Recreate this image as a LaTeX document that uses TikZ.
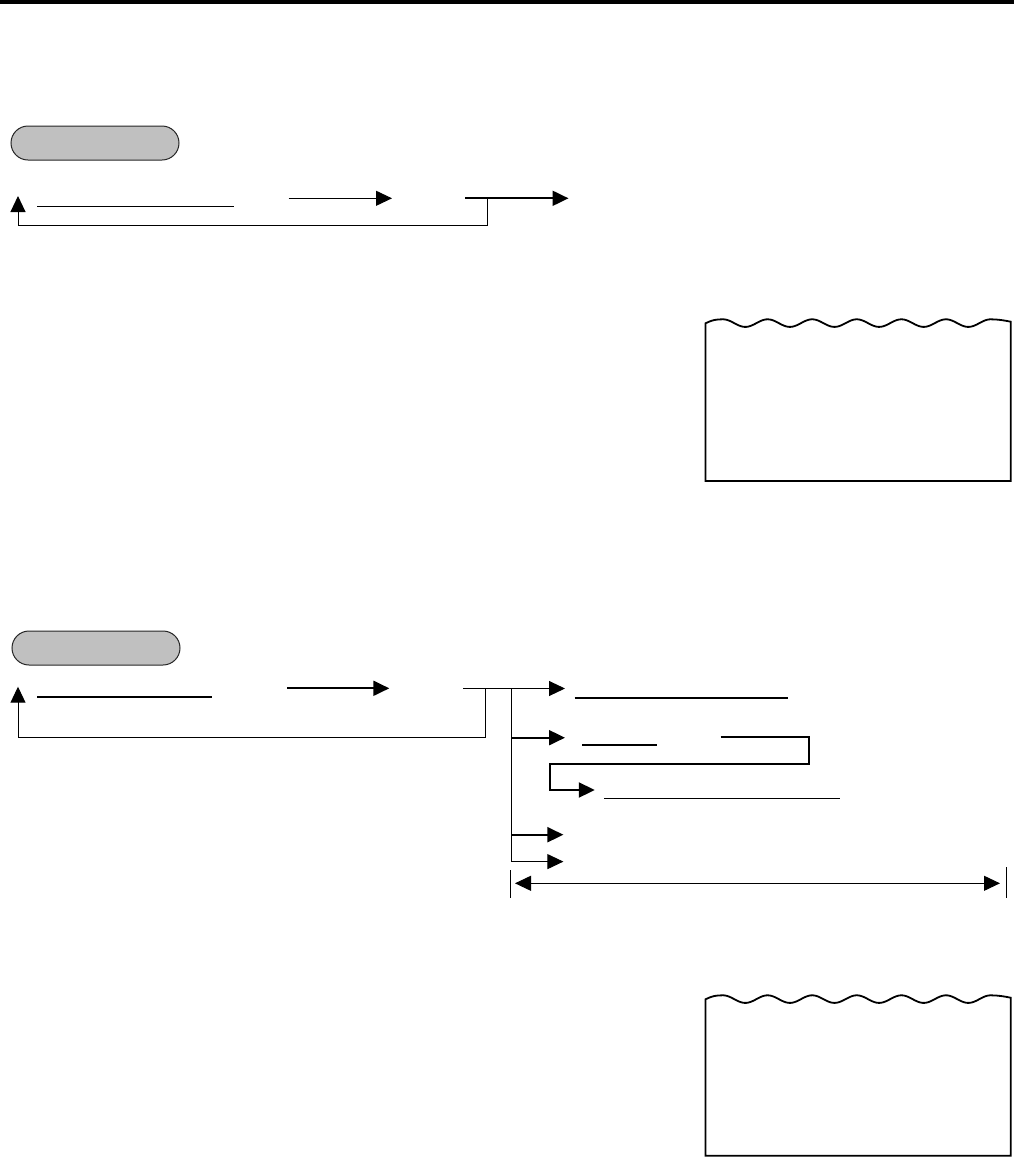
\documentclass[tikz,border=0pt]{standalone}
\usetikzlibrary{arrows.meta}
\definecolor{pillgray}{RGB}{192,192,192}
\begin{document}
\begin{tikzpicture}[x=1pt,y=-1pt,
  thinln/.style={line width=1pt},
  thickln/.style={line width=2pt},
  tipend/.style={-{Triangle[length=16pt,width=15pt]}},
  tipboth/.style={{Triangle[length=16pt,width=15pt]}-{Triangle[length=16pt,width=15pt]}},
  pill/.style={draw=black!85, line width=1pt, fill=pillgray, rounded corners=17pt,
    minimum width=168pt, minimum height=34pt, inner sep=0pt},
  receipt/.style={draw=black, line width=1.8pt, line join=miter}]
\useasboundingbox (0,0) rectangle (1014,1157);
% top rule
\fill[black] (0,0) rectangle (1014,4);

% ---------- section 1 ----------
\node[pill] (pillA) at (95,143) {};
\coordinate (a1) at (37,206.5);
\coordinate (a2) at (234,206.5);
\draw[thinln] (a1) -- (a2);
\coordinate (b1) at (288.5,198.3);
\coordinate (b2) at (392,198.3);
\draw[thinln,tipend] (b1) -- (b2);
\coordinate (c1) at (465,198.3);
\coordinate (c2) at (568.5,198.3);
\draw[thickln,tipend] (c1) -- (c2);
\coordinate (r1) at (487.7,198.3);
\coordinate (r2) at (487.7,225.5);
\coordinate (r3) at (18,225.5);
\coordinate (r4) at (18,196);
\draw[thinln,tipend] (r1) -- (r2) -- (r3) -- (r4);

% receipt 1
\draw[receipt] (705.5,481) -- (705.5,323.3) .. controls (712,320) and (716,319.3) .. (723,319.3)
  -- plot[domain=0:267.6,samples=150,smooth] ({\x+723},{323.1-3.8*cos(8.072*\x)})
  .. controls (998,319.3) and (1005,320.5) .. (1010.7,321.7) -- (1010.7,481) -- cycle;

% ---------- section 2 ----------
\node[pill] (pillB) at (96,648) {};
\coordinate (d1) at (37.3,697);
\coordinate (d2) at (211.7,697);
\draw[thickln] (d1) -- (d2);
\coordinate (e1) at (287.3,688.3);
\coordinate (e2) at (389.3,688.3);
\draw[thickln,tipend] (e1) -- (e2);
\coordinate (f1) at (485.5,688.5);
\coordinate (f2) at (485.5,737);
\coordinate (f3) at (18,737);
\coordinate (f4) at (18,686.7);
\draw[thinln,tipend] (f1) -- (f2) -- (f3) -- (f4);
\coordinate (g1) at (463.3,688.5);
\coordinate (g2) at (565,688.5);
\draw[thinln,tipend] (g1) -- (g2);
% vertical branch
\coordinate (v1) at (511.3,688.5);
\coordinate (v2) at (511.3,861.6);
\draw[thinln] (v1) -- (v2);
% branch 2
\coordinate (h1) at (511.3,737.7);
\coordinate (h2) at (565,737.7);
\draw[thickln,tipend] (h1) -- (h2);
% underlines
\draw[thickln] (574.7,697.5) coordinate (u1) -- (787.6,697.5) coordinate (u2);
\draw[thickln] (582,745) coordinate (u3) -- (657,745) coordinate (u4);
% bracket
\coordinate (k1) at (720.5,736.5);
\coordinate (k2) at (809.4,736.5);
\coordinate (k3) at (809.4,763.9);
\coordinate (k4) at (549.8,763.9);
\coordinate (k5) at (549.8,790);
\coordinate (k6) at (594.8,790);
\draw[thickln,tipend] (k1) -- (k2) -- (k3) -- (k4) -- (k5) -- (k6);
\draw[line width=1.5pt] (604.3,798.3) coordinate (u5) -- (840,798.3) coordinate (u6);
% branch 3 and 4
\coordinate (m1) at (511.3,834.7);
\coordinate (m2) at (563.4,834.7);
\draw[thickln,tipend] (m1) -- (m2);
\coordinate (n1) at (511.3,861.6);
\coordinate (n2) at (563.4,861.6);
\draw[thinln,tipend] (n1) -- (n2);
% width marker
\coordinate (t1) at (510.7,870);
\coordinate (t2) at (510.7,898.3);
\coordinate (t3) at (1006.7,867);
\coordinate (t4) at (1006.7,898.3);
\draw[thinln] (t1) -- (t2);
\draw[thinln] (t3) -- (t4);
\coordinate (w1) at (515,883.3);
\coordinate (w2) at (1000,883.3);
\draw[thinln,tipboth] (w1) -- (w2);

% receipt 2
\draw[receipt] (705.5,1155.7) -- (705.5,999.3) .. controls (712,996) and (716,995.3) .. (723,995.3)
  -- plot[domain=0:267.6,samples=150,smooth] ({\x+723},{999.1-3.8*cos(8.072*\x)})
  .. controls (998,995.3) and (1005,996.5) .. (1010.7,997.7) -- (1010.7,1155.7) -- cycle;
\end{tikzpicture}
\end{document}
